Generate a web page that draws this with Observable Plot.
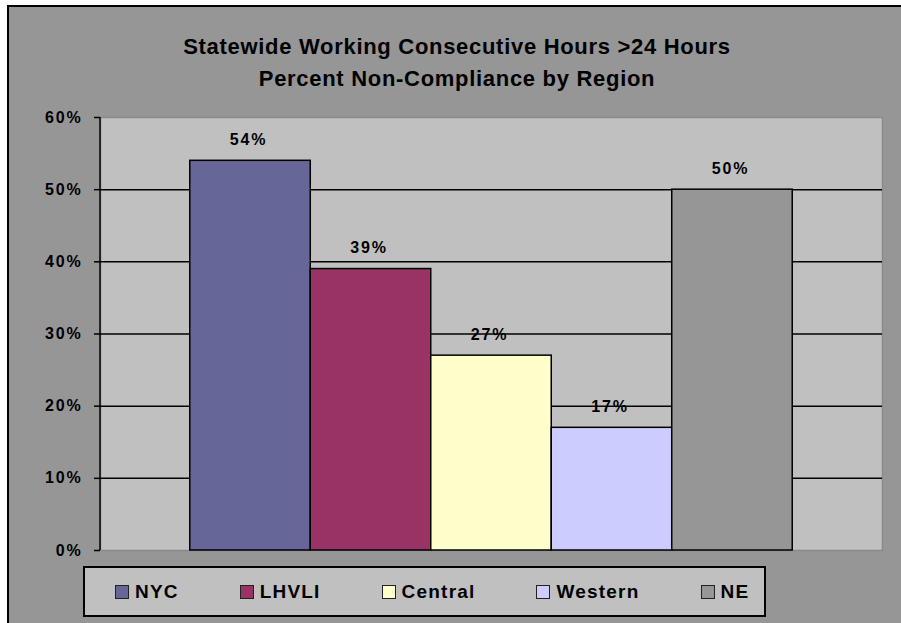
<!DOCTYPE html>
<html>
<head>
<meta charset="utf-8">
<script src="https://cdn.jsdelivr.net/npm/d3@7"></script>
<script src="https://cdn.jsdelivr.net/npm/@observablehq/plot@0.6"></script>
<style>
  html, body { margin: 0; padding: 0; background: #ffffff; }
  #page { position: relative; width: 901px; height: 623px; overflow: hidden; }
  #box { position: absolute; left: 7px; top: 5px; width: 900px; height: 640px;
         background: #969696; border-left: 2px solid #000; border-top: 2px solid #000; }
  #title { position: absolute; left: 7px; width: 900px; top: 31px; text-align: center;
           font: bold 22px "Liberation Sans", Arial, sans-serif; letter-spacing: 0.7px;
           line-height: 32px; color: #000; }
  #chart { position: absolute; left: 0; top: 0; }
  #chart svg text { letter-spacing: 1.8px; }
  #legend { position: absolute; left: 83px; top: 566px; width: 683px; height: 51px;
            background: #C0C0C0; border: 2px solid #000; box-sizing: border-box;
            display: flex; align-items: center; padding-left: 30px; gap: 61px;
            font: bold 19px "Liberation Sans", Arial, sans-serif; letter-spacing: 1.2px; }
  .item { display: flex; align-items: center; gap: 6px; }
  .sw { width: 12px; height: 12px; border: 1.5px solid #222; }
</style>
</head>
<body>
<div id="page">
  <div id="box"></div>
  <div id="title"></div>
  <div id="chart"></div>
  <div id="legend"></div>
</div>
<script>
const regions = ["NYC", "LHVLI", "Central", "Western", "NE"];
const values = [0.54, 0.39, 0.27, 0.17, 0.50];
const colors = ["#666699", "#993366", "#FFFFCC", "#CCCCFF", "#969696"];
const yTicks = [0, 0.1, 0.2, 0.3, 0.4, 0.5, 0.6];
const titleLines = ["Statewide Working Consecutive Hours >24 Hours", "Percent Non-Compliance by Region"];

const data = regions.map((r, i) => ({region: r, value: values[i], color: colors[i]}));

document.getElementById("title").innerHTML = titleLines.join("<br>");

const fmt = d => Math.round(d * 100) + "%";

const plot = Plot.plot({
  width: 901,
  height: 623,
  marginTop: 117,
  marginBottom: 73,
  marginLeft: 100,
  marginRight: 19,
  style: {background: "transparent", fontFamily: "Liberation Sans, Arial, sans-serif"},
  x: {domain: regions, paddingInner: 0, paddingOuter: 0.745, round: false, axis: null},
  y: {domain: [0, 0.6], ticks: yTicks, axis: null, label: null},
  marks: [
    Plot.frame({fill: "#C0C0C0", stroke: "#8a8a8a", strokeWidth: 1.5}),
    Plot.gridY(yTicks.filter(t => t > 0 && t < 0.6), {stroke: "#000", strokeOpacity: 1, strokeWidth: 1.5}),
    Plot.barY(data, {x: "region", y: "value", fill: "color", stroke: "#000", strokeWidth: 1.5, inset: 0}),
    Plot.text(data, {x: "region", y: "value", text: d => fmt(d.value), dy: -21, dx: -2,
      fontWeight: "bold", fontSize: 16, fill: "#000"}),
    Plot.axisY({ticks: yTicks, tickFormat: fmt, tickSize: 6, tickPadding: 12, label: null,
      fontWeight: "bold", fontSize: 16, stroke: "#000", strokeWidth: 1.5, fill: "#000"}),
  ]
});
document.getElementById("chart").appendChild(plot);

// y axis line
const svg = d3.select(plot);
const yS = plot.scale("y");
svg.append("line")
  .attr("x1", 100).attr("x2", 100)
  .attr("y1", yS.apply(0.6)).attr("y2", yS.apply(0))
  .attr("stroke", "#000").attr("stroke-width", 1.5);

const legend = document.getElementById("legend");
regions.forEach((r, i) => {
  const it = document.createElement("div");
  it.className = "item";
  it.innerHTML = `<div class="sw" style="background:${colors[i]}"></div><span>${r}</span>`;
  legend.appendChild(it);
});
</script>
</body>
</html>
